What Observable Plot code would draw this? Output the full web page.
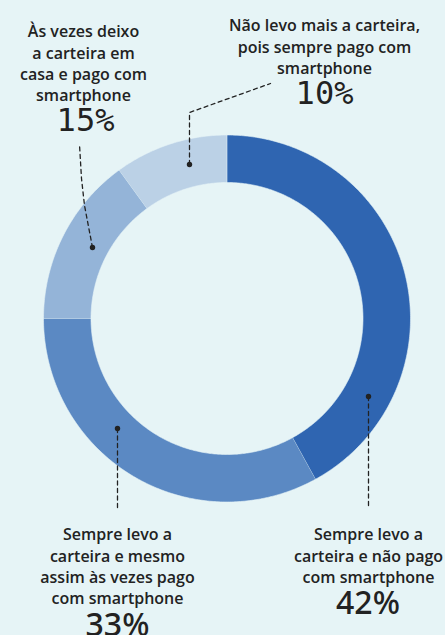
<!DOCTYPE html>
<html>
<head>
<meta charset="utf-8">
<script src="https://cdn.jsdelivr.net/npm/d3@7"></script>
<script src="https://cdn.jsdelivr.net/npm/@observablehq/plot@0.6"></script>
<style>
  html, body { margin: 0; padding: 0; background: #e6f4f6; }
  #chart { width: 445px; height: 635px; overflow: hidden; }
  svg { display: block; }
</style>
</head>
<body>
<div id="chart"></div>
<script>
// ---- data ----
const categories = [
  "Sempre levo a carteira e não pago com smartphone",
  "Sempre levo a carteira e mesmo assim às vezes pago com smartphone",
  "Às vezes deixo a carteira em casa e pago com smartphone",
  "Não levo mais a carteira, pois sempre pago com smartphone"
];
const values = [42, 33, 15, 10];
const labelLines = [
  "Sempre levo a\ncarteira e não pago\ncom smartphone",
  "Sempre levo a\ncarteira e mesmo\nassim às vezes pago\ncom smartphone",
  "Às vezes deixo\na carteira em\ncasa e pago com\nsmartphone",
  "Não levo mais a carteira,\npois sempre pago com\nsmartphone"
];

// ---- styles / layout ----
const colors = ["#2f65b1", "#5b89c3", "#94b4d8", "#bbd1e6"];
const bg = "#e6f4f6";
const ink = "#222222";
const W = 445, H = 635;
const cx = 226.5, cy = 318, rOuter = 183.5, rInner = 136;
// annotation layout: label anchor, percent anchor, leader path (dot first)
const layout = [
  {lx: 368, ly: 524.6, px: 367.5, py: 590.5, pfont: "Noto Sans", leader: [[368, 396], [368, 508]]},
  {lx: 117, ly: 524.6, px: 117, py: 613, pfont: "Noto Sans", leader: [[117, 428], [117, 508]]},
  {lx: 83, ly: 21.6, px: 85, py: 108, pfont: "DejaVu Sans Mono", leader: [[92, 247], [84, 205], [81, 178], [79, 144]]},
  {lx: 324, ly: 15.6, px: 324, py: 81, pfont: "DejaVu Sans Mono", leader: [[189, 164], [189, 112], [270, 83]]}
];

// ---- geometry derived from data ----
const arcs = d3.pie().sort(null).value(d => d)(values);
const pt = (a, r) => [cx + r * Math.sin(a), cy - r * Math.cos(a)];
const slicePts = [];
arcs.forEach((a, i) => {
  const n = Math.max(8, Math.ceil((a.endAngle - a.startAngle) / 0.01));
  for (let k = 0; k <= n; k++) {
    const t = a.startAngle + (a.endAngle - a.startAngle) * k / n;
    const [x, y] = pt(t, rOuter);
    slicePts.push({key: categories[i], x, y});
  }
  for (let k = n; k >= 0; k--) {
    const t = a.startAngle + (a.endAngle - a.startAngle) * k / n;
    const [x, y] = pt(t, rInner);
    slicePts.push({key: categories[i], x, y});
  }
});

const leaderPts = layout.flatMap((l, i) => l.leader.map(([x, y]) => ({key: i, x, y})));
const dotPts = layout.map((l, i) => ({x: l.leader[0][0], y: l.leader[0][1]}));
const labelData = labelLines.map((t, i) => ({text: t, x: layout[i].lx, y: layout[i].ly}));
const pctData = values.map((v, i) => ({text: v + "%", x: layout[i].px, y: layout[i].py, font: layout[i].pfont}));

const chart = Plot.plot({
  width: W,
  height: H,
  margin: 0,
  style: {background: "transparent", overflow: "visible"},
  x: {domain: [0, W], axis: null},
  y: {domain: [0, H], reverse: true, axis: null},
  color: {domain: categories, range: colors},
  marks: [
    Plot.line(slicePts, {x: "x", y: "y", z: "key", fill: "key", stroke: bg, strokeWidth: 0.6, curve: "linear"}),
    Plot.line(leaderPts, {x: "x", y: "y", z: "key", stroke: ink, strokeWidth: 1.3, strokeDasharray: "4,3.5"}),
    Plot.dot(dotPts, {x: "x", y: "y", r: 2.7, fill: ink, stroke: "none"}),
    Plot.text(labelData, {x: "x", y: "y", text: "text", lineAnchor: "top", textAnchor: "middle",
      fontFamily: "Open Sans", fontWeight: 600, fontSize: 16, lineHeight: 1.335, fill: ink}),
    Plot.text(pctData.filter(d => d.font !== "Noto Sans"), {x: "x", y: "y", text: "text", lineAnchor: "top", textAnchor: "middle",
      fontFamily: "DejaVu Sans Mono", fontWeight: 400, fontSize: 32, fill: ink}),
    Plot.text(pctData.filter(d => d.font === "Noto Sans"), {x: "x", y: "y", text: "text", lineAnchor: "top", textAnchor: "middle",
      fontFamily: "Noto Sans", fontWeight: 500, fontSize: 32, fill: ink})
  ]
});
document.getElementById("chart").appendChild(chart);
</script>
</body>
</html>
